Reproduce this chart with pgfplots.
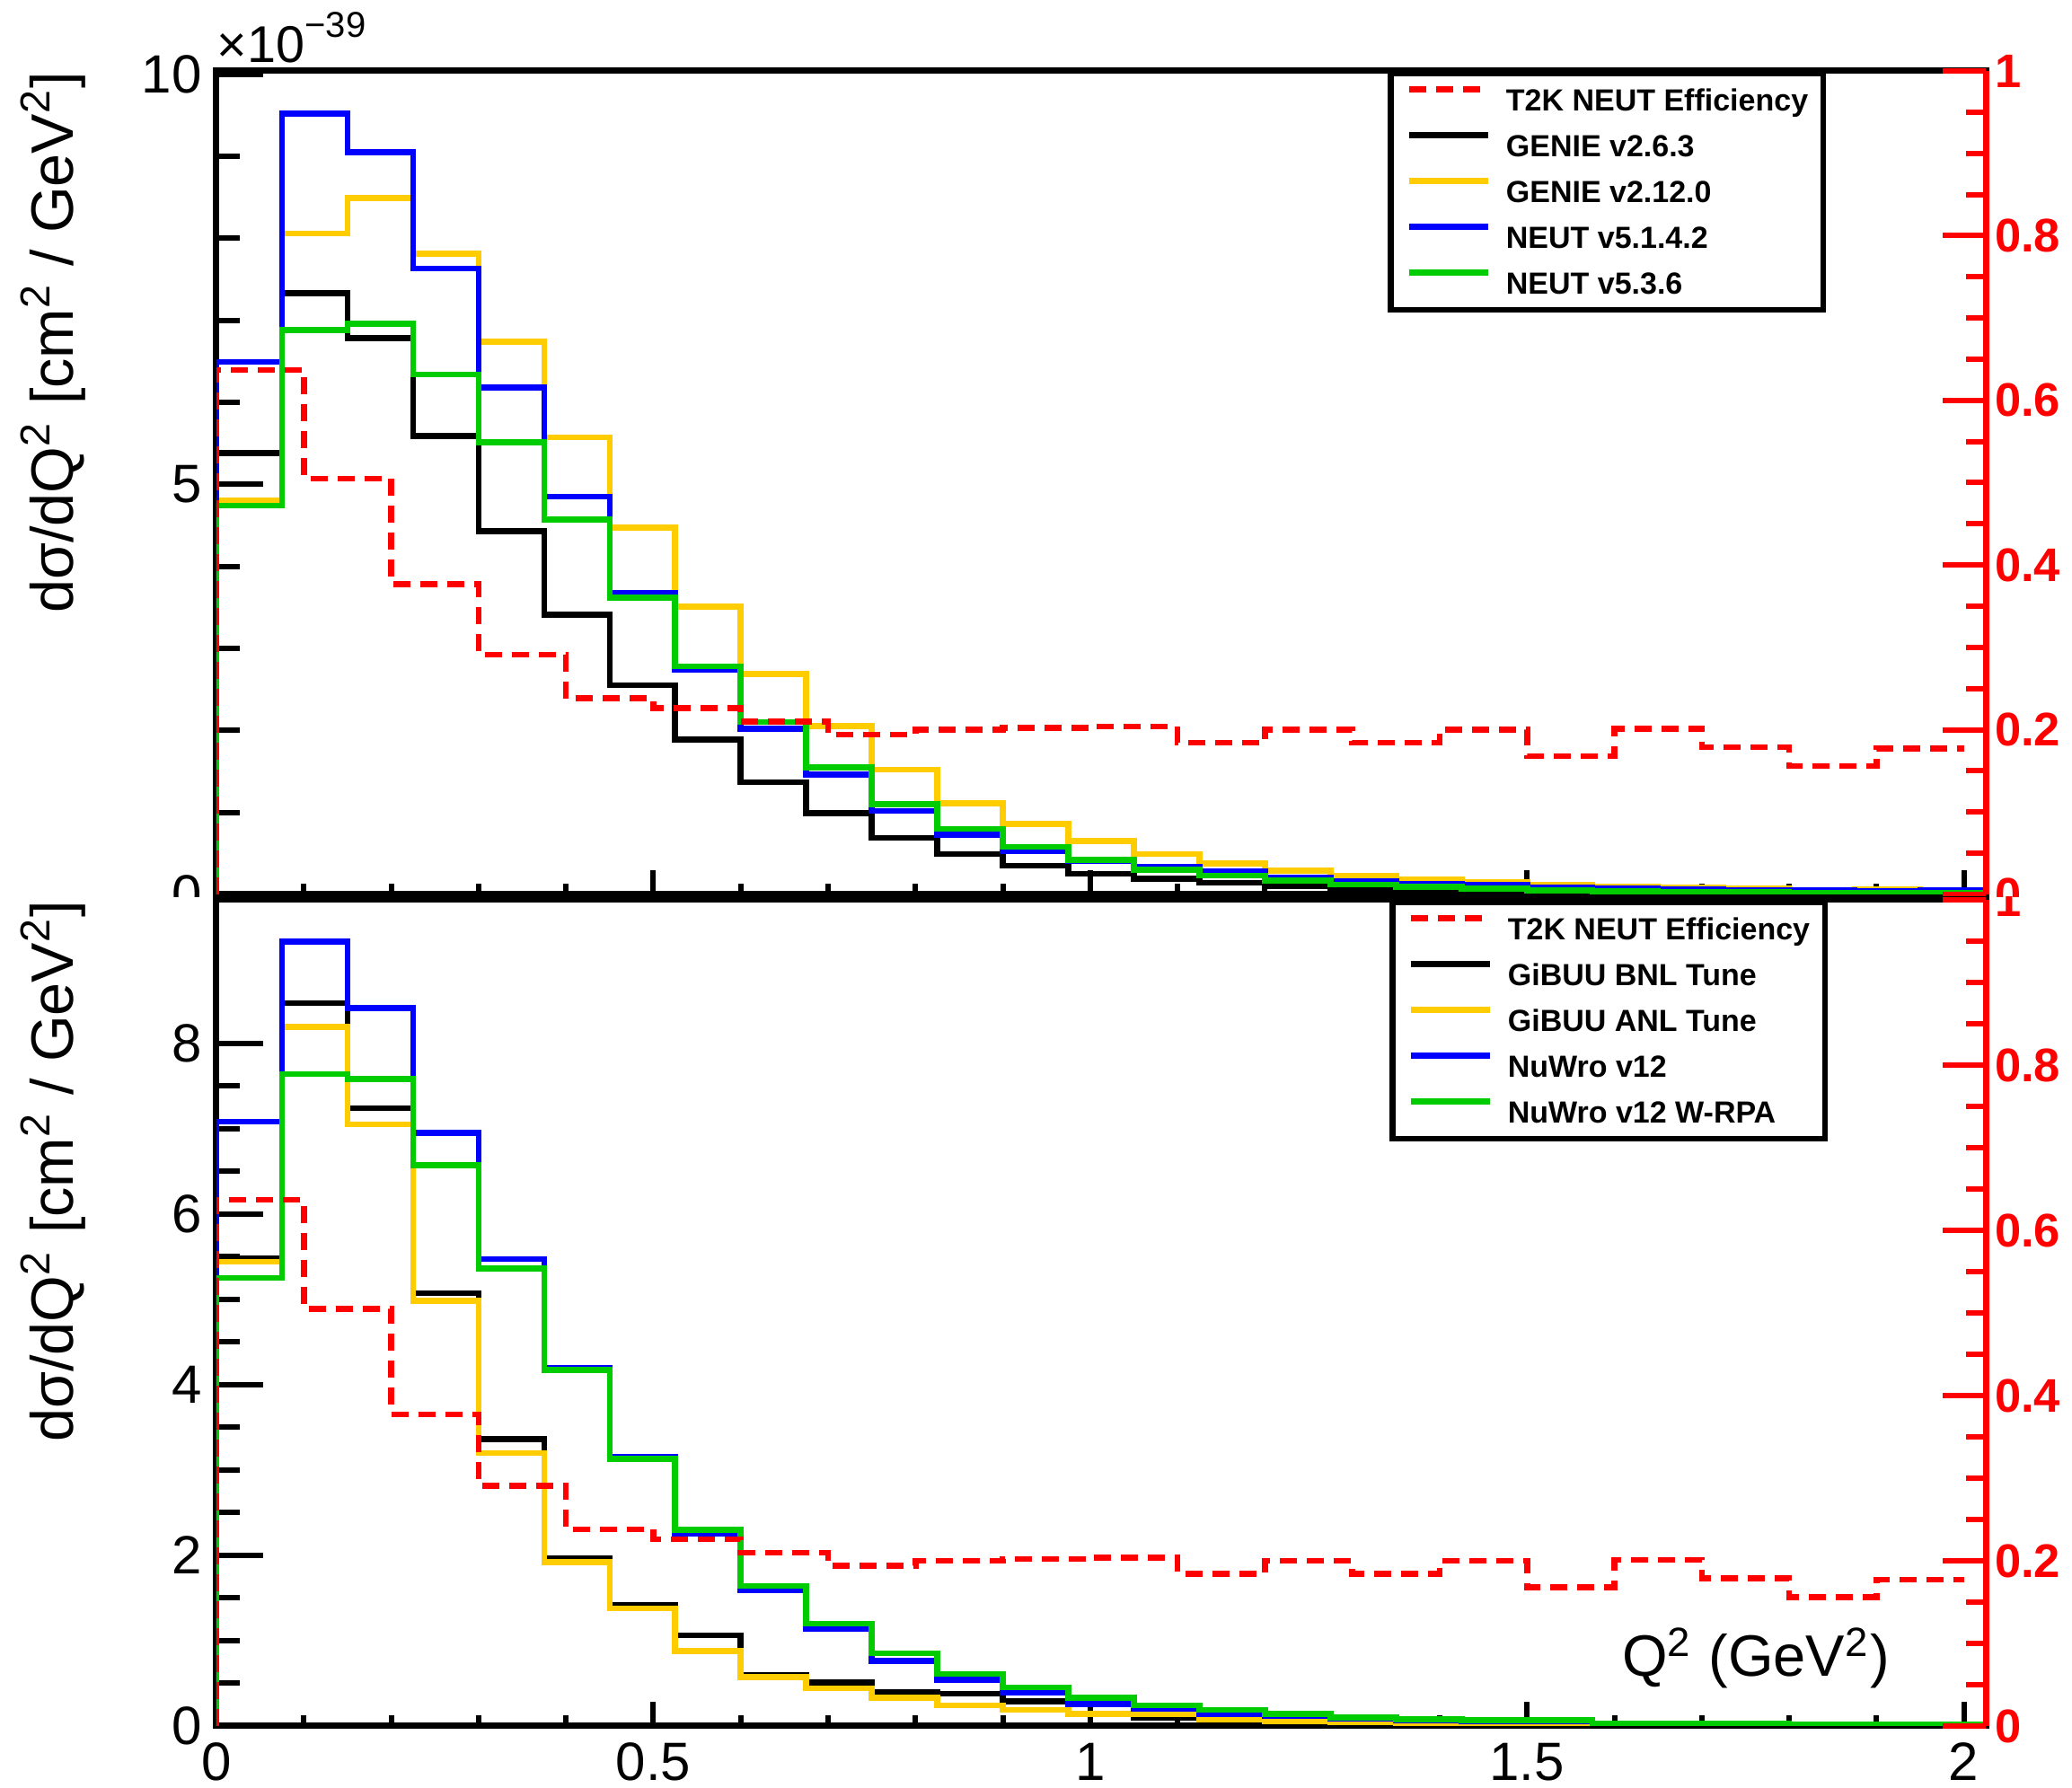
\documentclass[border=0pt]{standalone}
\usepackage{pgfplots}
\pgfplotsset{compat=1.18}
\usepackage{pgfplotstable}
\usepackage{fontspec}
\setmainfont{Liberation Sans}
\definecolor{hyellow}{RGB}{255,204,0}
\definecolor{hblue}{RGB}{0,0,255}
\definecolor{hgreen}{RGB}{0,204,0}
\definecolor{hred}{RGB}{255,0,0}

\pgfplotstableread{
x black yellow blue green
0 0 0 0 0
0 5.38 4.80 6.49 4.74
0.075 7.33 8.06 9.52 6.88
0.15 6.78 8.49 9.05 6.96
0.225 5.59 7.81 7.63 6.34
0.3 4.43 6.74 6.18 5.51
0.375 3.41 5.57 4.85 4.57
0.45 2.55 4.47 3.68 3.62
0.525 1.89 3.51 2.74 2.78
0.6 1.37 2.69 2.02 2.10
0.675 0.99 2.05 1.46 1.55
0.75 0.69 1.52 1.02 1.10
0.825 0.49 1.11 0.73 0.80
0.9 0.35 0.86 0.53 0.58
0.975 0.25 0.65 0.41 0.42
1.05 0.19 0.49 0.34 0.30
1.125 0.14 0.38 0.28 0.23
1.2 0.10 0.29 0.21 0.17
1.275 0.07 0.23 0.16 0.12
1.35 0.05 0.18 0.13 0.09
1.425 0.04 0.155 0.12 0.07
1.5 0.03 0.12 0.08 0.05
1.575 0.02 0.10 0.07 0.04
1.65 0.02 0.08 0.06 0.03
1.725 0.015 0.07 0.05 0.03
1.8 0.01 0.05 0.05 0.02
1.875 0.01 0.06 0.04 0.02
1.95 0.01 0.04 0.05 0.02
2.025 0 0 0 0
}\toptable

\pgfplotstableread{
x black yellow blue green
0 0 0 0 0
0 5.48 5.44 7.08 5.25
0.075 8.47 8.19 9.19 7.64
0.15 7.24 7.05 8.41 7.58
0.225 5.07 4.98 6.95 6.57
0.3 3.36 3.20 5.47 5.36
0.375 1.96 1.92 4.20 4.17
0.45 1.42 1.38 3.15 3.13
0.525 1.06 0.88 2.25 2.30
0.6 0.60 0.575 1.59 1.64
0.675 0.51 0.44 1.14 1.20
0.75 0.40 0.33 0.76 0.85
0.825 0.38 0.24 0.54 0.61
0.9 0.29 0.19 0.39 0.45
0.975 0.26 0.14 0.26 0.33
1.05 0.10 0.14 0.20 0.24
1.125 0.07 0.08 0.14 0.19
1.2 0.06 0.05 0.12 0.14
1.275 0.04 0.04 0.09 0.10
1.35 0.03 0.03 0.07 0.08
1.425 0.03 0.02 0.06 0.07
1.5 0.02 0.02 0.05 0.07
1.575 0.02 0.01 0.03 0.03
1.65 0.015 0.01 0.03 0.03
1.725 0.01 0.01 0.03 0.025
1.8 0.01 0.01 0.02 0.02
1.875 0.01 0.005 0.02 0.02
1.95 0.01 0.005 0.02 0.02
2.025 0 0 0 0
}\bottable

\pgfplotstableread{
x eff
0 0
0 0.637
0.1 0.505
0.2 0.377
0.3 0.291
0.4 0.238
0.5 0.226
0.6 0.210
0.7 0.194
0.8 0.200
0.9 0.202
1.0 0.204
1.1 0.184
1.2 0.200
1.3 0.184
1.4 0.200
1.5 0.168
1.6 0.201
1.7 0.179
1.8 0.156
1.9 0.177
2.0 0.177
}\efftable

\pgfplotsset{
  histax/.style={
    scale only axis, width=394pt,
    xmin=0, xmax=2.025,
    clip mode=individual,
    axis line style={line width=1.4pt},
    tick align=inside, tick pos=left,
    xtick={0,0.5,1,1.5,2}, minor x tick num=4,
    xtick style={black, line width=1.2pt, /pgfplots/major tick length=5.3pt, /pgfplots/minor tick length=2.4pt},
    ytick style={black, line width=1.2pt, /pgfplots/major tick length=10.4pt, /pgfplots/minor tick length=5.2pt},
    yticklabel style={inner sep=0pt, xshift=-3.1pt, font=\fontsize{12}{14}\selectfont},
    xticklabel style={inner sep=0pt, yshift=-3.6pt, font=\fontsize{12}{14}\selectfont},
    legend cell align=left,
    legend image code/.code={\draw[##1] (0pt,2.4pt) -- (17.6pt,2.4pt);},
    legend style={anchor=north west, draw=black, line width=1.3pt, fill=white,
      inner xsep=3.4pt, inner ysep=0.8pt, row sep=0pt, column sep=3.4pt,
      font=\fontsize{6.8}{8}\selectfont\bfseries,
      nodes={inner sep=0pt, text height=7.5pt, text depth=2.7pt}},
  },
  effax/.style={
    scale only axis, width=394pt,
    xmin=0, xmax=2.025, ymin=0, ymax=1,
    axis x line=none, axis y line*=right,
    y axis line style={hred, line width=1.4pt},
    tick align=inside,
    ytick={0,0.2,0.4,0.6,0.8,1}, minor y tick num=3,
    yticklabels={0,0.2,0.4,0.6,0.8,1},
    ytick style={hred, line width=1.2pt, /pgfplots/major tick length=9.6pt, /pgfplots/minor tick length=4.4pt},
    yticklabel style={text=hred, inner sep=0pt, xshift=1.8pt, font=\fontsize{10.5}{12}\selectfont\bfseries},
  },
  hl/.style={const plot mark left, line width=1.3pt, forget plot},
  effline/.style={hred, line width=1.3pt, dash pattern=on 3.8pt off 2.2pt},
}

\begin{document}
\begin{tikzpicture}
\useasboundingbox (0,0) rectangle (461.4pt,398.2pt);
% ---------------- top pad ----------------
\begin{scope}
\clip (0pt,198.4pt) rectangle (461.4pt,398.2pt);
\begin{axis}[histax, at={(48.2pt,199pt)}, anchor=south west, height=183.4pt,
  ymin=0, ymax=10.04, ytick={0,5,10}, yticklabels={0,5,10}, minor y tick num=4,
  xticklabels={},
  legend style={at={(rel axis cs:0.662,1)}}]
\addlegendimage{effline}
\addlegendimage{black, line width=1.3pt}
\addlegendimage{hyellow, line width=1.3pt}
\addlegendimage{hblue, line width=1.3pt}
\addlegendimage{hgreen, line width=1.3pt}
\addplot[hl, black] table[x=x, y=black] {\toptable};
\addplot[hl, hyellow] table[x=x, y=yellow] {\toptable};
\addplot[hl, hblue] table[x=x, y=blue] {\toptable};
\addplot[hl, hgreen] table[x=x, y=green] {\toptable};
\legend{T2K NEUT Efficiency, GENIE v2.6.3, GENIE v2.12.0, NEUT v5.1.4.2, NEUT v5.3.6}
\node[rotate=90, anchor=east, inner sep=0pt, font=\fontsize{13.3}{15}\selectfont]
  at (rel axis cs:-0.0925,1) {dσ/dQ\textsuperscript{2} [cm\textsuperscript{2} / GeV\textsuperscript{2}]};
\node[anchor=base west, inner sep=0pt, font=\fontsize{11.5}{13}\selectfont, yshift=1.8pt]
  at (rel axis cs:0,1) {×10\raisebox{5.6pt}{\fontsize{8}{9}\selectfont −39}};
\end{axis}
\begin{axis}[effax, at={(48.2pt,199pt)}, anchor=south west, height=183.4pt]
\addplot[const plot mark left, effline] table[x=x, y=eff] {\efftable};
\end{axis}
\end{scope}
% ---------------- bottom pad ----------------
\begin{scope}
\clip (0pt,0pt) rectangle (461.4pt,198.4pt);
\begin{axis}[histax, at={(48.2pt,13.8pt)}, anchor=south west, height=184pt,
  ymin=0, ymax=9.68, ytick={0,2,4,6,8}, yticklabels={0,2,4,6,8}, minor y tick num=3,
  xticklabels={0,0.5,1,1.5,2},
  legend style={at={(rel axis cs:0.663,1)}}]
\addlegendimage{effline}
\addlegendimage{black, line width=1.3pt}
\addlegendimage{hyellow, line width=1.3pt}
\addlegendimage{hblue, line width=1.3pt}
\addlegendimage{hgreen, line width=1.3pt}
\addplot[hl, black] table[x=x, y=black] {\bottable};
\addplot[hl, hyellow] table[x=x, y=yellow] {\bottable};
\addplot[hl, hblue] table[x=x, y=blue] {\bottable};
\addplot[hl, hgreen] table[x=x, y=green] {\bottable};
\legend{T2K NEUT Efficiency, GiBUU BNL Tune, GiBUU ANL Tune, NuWro v12, NuWro v12 W-RPA}
\node[rotate=90, anchor=east, inner sep=0pt, font=\fontsize{13.3}{15}\selectfont]
  at (rel axis cs:-0.0925,1) {dσ/dQ\textsuperscript{2} [cm\textsuperscript{2} / GeV\textsuperscript{2}]};
\node[inner sep=0pt, font=\fontsize{13}{15}\selectfont]
  at (rel axis cs:0.870,0.0826) {Q\textsuperscript{2} (GeV\textsuperscript{2})};
\end{axis}
\begin{axis}[effax, at={(48.2pt,13.8pt)}, anchor=south west, height=184pt]
\addplot[const plot mark left, effline] table[x=x, y=eff] {\efftable};
\end{axis}
\end{scope}
\end{tikzpicture}
\end{document}
